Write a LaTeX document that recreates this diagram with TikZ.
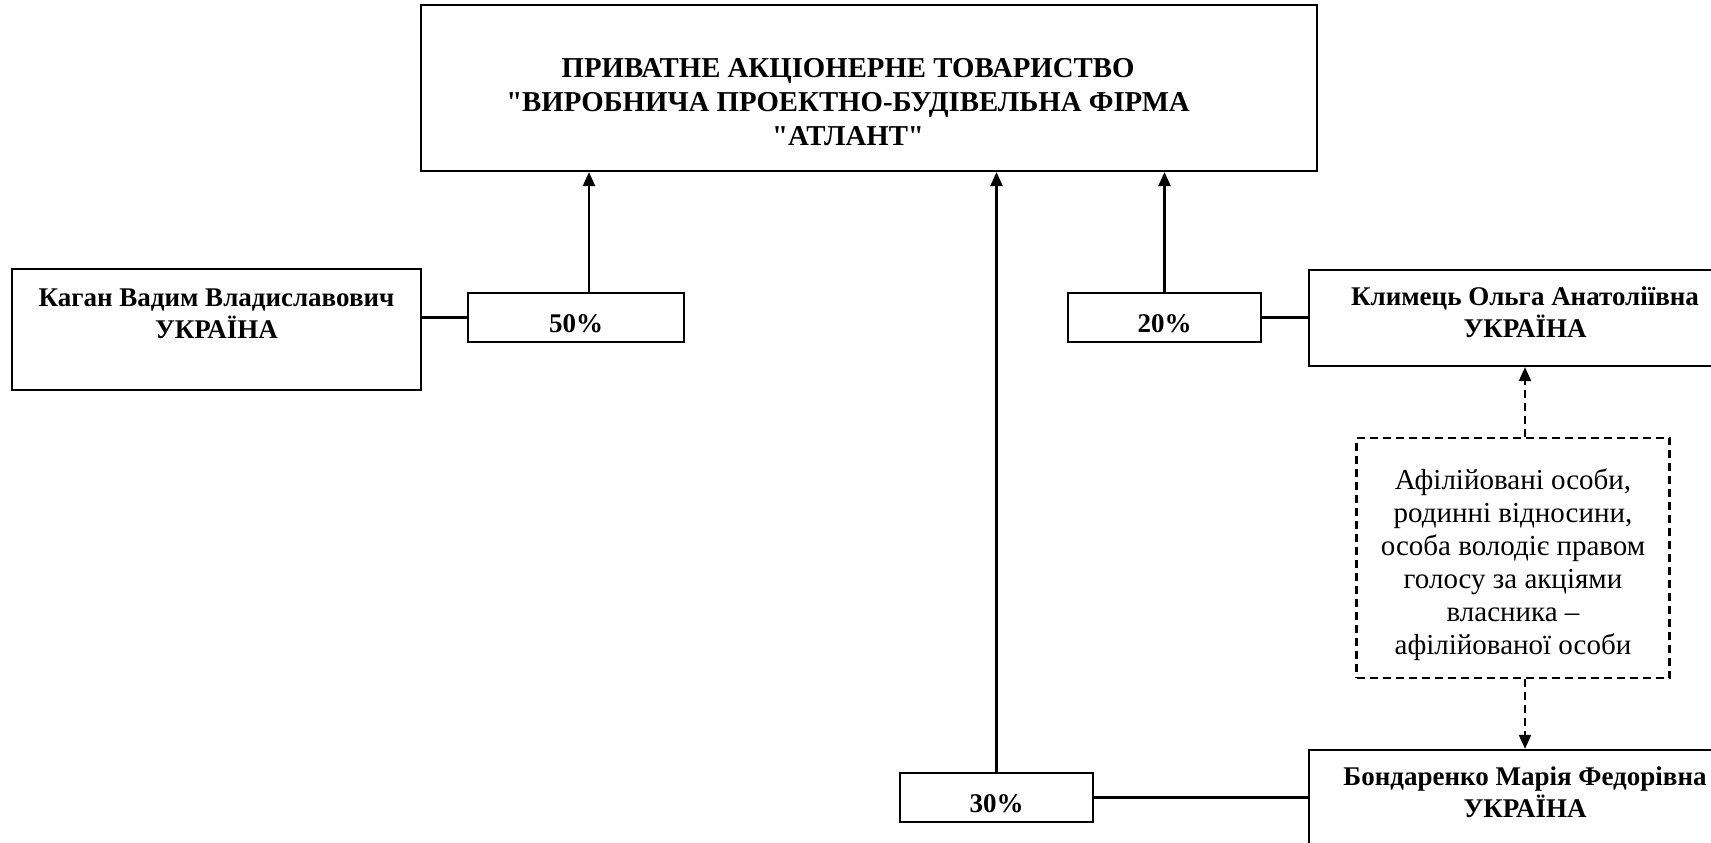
\documentclass[tikz,border=0pt]{standalone}
\usepackage{fontspec}
\setmainfont{Liberation Serif}[Ligatures=TeXOff]
\usetikzlibrary{positioning,arrows.meta}

\begin{document}
\begin{tikzpicture}[
x=1pt, y=-1pt,
>={Triangle[length=14pt,width=12pt]},
line width=2.2pt,
company/.style={rectangle, draw=black, inner sep=0pt, font=\bfseries\fontsize{28.8}{34}\selectfont},
owner/.style={rectangle, draw=black, align=center, inner sep=0pt, font=\bfseries\fontsize{27}{32}\selectfont},
share/.style={rectangle, draw=black, inner sep=0pt, minimum height=49pt, text height=30pt, text depth=0pt, font=\bfseries\fontsize{27}{30}\selectfont},
affiliated/.style={rectangle, draw=black, dash pattern=on 8pt off 5pt, align=center, inner sep=0pt, font=\fontsize{29}{33}\selectfont}
]
\useasboundingbox (0,0) rectangle (1711,843);

\node[company, minimum width=896pt, minimum height=166pt](company) at (869,88)
  {\begin{tabular}{@{}c@{\hspace{42pt}}}
   \rule{0pt}{57pt}ПРИВАТНЕ АКЦІОНЕРНЕ ТОВАРИСТВО\\
   "ВИРОБНИЧА ПРОЕКТНО-БУДІВЕЛЬНА ФІРМА\\
   "АТЛАНТ"
   \end{tabular}};

\node[owner, minimum width=409pt, minimum height=121pt](owner_kagan) at (216.5,329.5)
  {Каган Вадим Владиславович\\ УКРАЇНА\rule[-32pt]{0pt}{32pt}};
\node[owner, minimum width=432pt, minimum height=96pt](owner_klimets) at (1525,318)
  {Климець Ольга Анатоліївна\\ УКРАЇНА\rule[-11pt]{0pt}{11pt}};
\node[owner, minimum width=432pt, minimum height=96pt](owner_bondarenko) at (1525,798)
  {Бондаренко Марія Федорівна\\ УКРАЇНА\rule[-11pt]{0pt}{11pt}};

\node[share, minimum width=216pt](share_50) at (576,317.5){50\%};
\node[share, minimum width=193pt](share_20) at (1164.5,317.5){20\%};
\node[share, minimum width=193pt](share_30) at (996.5,797.5){30\%};

\node[affiliated, minimum width=313pt, minimum height=240pt](affiliated) at (1513,558)
  {\rule{0pt}{34pt}Афілійовані особи,\\ родинні відносини,\\ особа володіє правом\\ голосу за акціями\\ власника –\\ афілійованої особи};

% shares to the company
\coordinate (arrow_50) at ([xshift=13pt]share_50.north);
\draw[->] (arrow_50) -- (arrow_50 |- company.south);
\draw[->] (share_20.north) -- (share_20.north |- company.south);
\draw[->] (share_30.north) -- (share_30.north |- company.south);

% owners to their shares
\draw (share_50.west) -- (share_50.west -| owner_kagan.east);
\draw (share_20.east) -- (share_20.east -| owner_klimets.west);
\draw (share_30.east) -- (share_30.east -| owner_bondarenko.west);

% affiliation
\draw[->, dash pattern=on 8pt off 5pt] (affiliated.north -| owner_klimets.south) -- (owner_klimets.south);
\draw[->, dash pattern=on 8pt off 5pt] (affiliated.south -| owner_bondarenko.north) -- (owner_bondarenko.north);
\end{tikzpicture}
\end{document}
